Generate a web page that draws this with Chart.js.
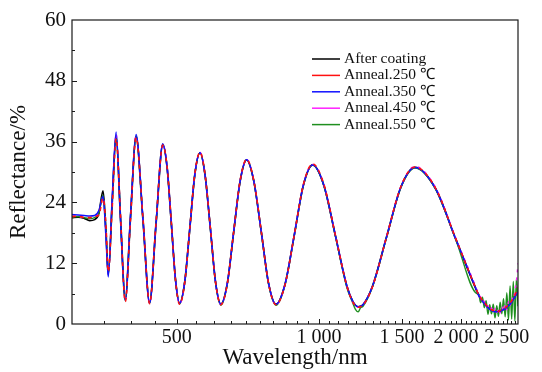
<!DOCTYPE html>
<html>
<head>
<meta charset="utf-8">
<script src="https://cdn.jsdelivr.net/npm/chart.js@4.4.1/dist/chart.umd.min.js"></script>
<style>
  html, body { margin: 0; padding: 0; background: #fff; }
  #wrap { width: 542px; height: 372px; }
</style>
</head>
<body>
<div id="wrap"><canvas id="grafico"></canvas></div>
<script>
// wavelength (nm), shared by every series
const wavelength = [
    300, 309, 318, 327, 335, 342, 349, 354, 358, 365,
    372, 380, 389, 399, 410, 424, 438, 452, 467, 477,
    487, 497, 507, 520, 533, 546, 560, 574, 589, 604,
    620, 640, 660, 681, 703, 728, 755, 782, 811, 848,
    887, 927, 970, 1025, 1084, 1146, 1180, 1195, 1211, 1225,
    1240, 1298, 1391, 1491, 1597, 1764, 1950, 2160, 2180, 2200,
    2220, 2240, 2260, 2280, 2300, 2320, 2340, 2360, 2380, 2400,
    2420, 2440, 2460, 2480, 2500, 2520, 2540, 2560, 2580, 2600,
    2620, 2640
];

// reflectance (%)
const afterCoating = [
    21.0, 21.1, 20.9, 20.4, 20.6, 21.8, 26.3, 18.5, 9.8, 24.0,
    37.2, 21.0, 4.8, 21.0, 37.0, 20.6, 4.2, 19.8, 35.4, 30.9,
    19.8, 8.7, 4.1, 8.4, 19.0, 29.5, 33.8, 29.4, 18.9, 8.3,
    3.9, 8.1, 18.2, 28.2, 32.4, 28.2, 18.2, 8.1, 3.9, 7.9,
    17.6, 27.4, 31.4, 27.3, 17.4, 7.5, 4.4, 3.7, 3.4, 3.5,
    3.8, 7.4, 17.2, 27.0, 30.9, 26.8, 16.7, 6.5, 5.7, 5.1,
    4.6, 4.1, 3.7, 3.3, 3.0, 2.8, 2.6, 2.5, 2.5, 2.5,
    2.6, 2.7, 2.9, 3.1, 3.4, 3.7, 4.0, 4.4, 4.9, 5.4,
    6.0, 6.6
];
const anneal250 = [
    21.2, 21.3, 21.0, 21.0, 21.2, 21.5, 24.8, 19.5, 10.3, 23.0,
    36.6, 21.5, 4.4, 20.5, 36.8, 21.0, 4.0, 20.2, 35.3, 31.0,
    20.0, 8.6, 3.9, 8.3, 19.0, 29.6, 33.9, 29.5, 19.0, 8.3,
    3.8, 8.0, 18.2, 28.3, 32.5, 28.3, 18.3, 8.1, 3.8, 7.8,
    17.6, 27.5, 31.6, 27.5, 17.5, 7.5, 4.3, 3.6, 3.3, 3.4,
    3.7, 7.3, 17.2, 27.1, 31.0, 26.9, 16.8, 6.6, 5.8, 5.2,
    4.6, 4.2, 3.8, 3.3, 3.1, 2.8, 2.7, 2.5, 2.6, 2.5,
    2.7, 2.8, 3.0, 3.2, 3.5, 3.7, 4.1, 4.6, 5.0, 5.7,
    6.4, 7.2
];
const anneal350 = [
    21.6, 21.5, 21.4, 21.3, 21.4, 22.4, 25.2, 17.2, 9.3, 25.0,
    37.9, 20.8, 4.6, 21.3, 37.4, 20.7, 4.1, 19.9, 35.6, 30.9,
    19.8, 8.7, 4.1, 8.4, 19.0, 29.5, 33.8, 29.4, 18.9, 8.3,
    3.9, 8.1, 18.2, 28.2, 32.4, 28.2, 18.2, 8.1, 3.9, 7.9,
    17.6, 27.4, 31.4, 27.3, 17.4, 7.5, 4.4, 3.7, 3.4, 3.5,
    3.8, 7.4, 17.2, 27.0, 30.9, 26.8, 16.7, 6.5, 5.6, 5.0,
    4.5, 4.0, 3.6, 3.2, 2.9, 2.7, 2.5, 2.4, 2.4, 2.5,
    2.5, 2.7, 2.8, 3.0, 3.3, 3.6, 3.9, 4.3, 4.8, 5.3,
    5.9, 6.3
];
const anneal450 = [
    21.3, 21.2, 21.1, 21.0, 21.1, 22.0, 25.0, 18.0, 9.8, 24.5,
    37.5, 21.2, 4.5, 21.1, 37.2, 20.8, 4.1, 20.0, 35.5, 31.0,
    19.9, 8.6, 4.0, 8.4, 19.1, 29.6, 33.9, 29.5, 19.0, 8.3,
    3.8, 8.1, 18.3, 28.3, 32.5, 28.3, 18.3, 8.1, 3.8, 7.9,
    17.7, 27.5, 31.5, 27.4, 17.5, 7.6, 4.3, 3.6, 3.3, 3.5,
    3.8, 7.4, 17.3, 27.1, 31.1, 27.0, 16.9, 6.7, 5.6, 5.4,
    4.4, 4.5, 3.4, 3.6, 2.7, 3.2, 2.3, 3.0, 2.1, 3.1,
    2.2, 3.4, 2.5, 3.9, 2.8, 4.4, 3.5, 5.2, 4.6, 6.6,
    8.4, 12.0
];
const anneal550 = [
    21.1, 21.2, 21.0, 20.8, 21.0, 21.9, 25.4, 18.2, 9.6, 24.2,
    37.3, 21.1, 4.6, 21.0, 37.1, 20.7, 4.1, 19.9, 35.4, 30.9,
    19.8, 8.6, 4.0, 8.4, 19.0, 29.5, 33.8, 29.4, 18.9, 8.2,
    3.7, 8.0, 18.2, 28.2, 32.4, 28.2, 18.1, 8.0, 3.7, 7.8,
    17.5, 27.3, 31.3, 27.2, 17.3, 7.2, 4.1, 2.9, 2.4, 3.2,
    3.5, 7.3, 17.1, 26.9, 30.8, 26.7, 16.6, 6.0, 5.9, 4.2,
    5.3, 3.2, 4.6, 1.9, 3.8, 2.0, 3.9, 1.2, 3.6, 1.5,
    4.3, 2.0, 5.0, 1.4, 6.2, 0.8, 7.5, 1.0, 8.4, 0.6,
    9.0, 3.5
];

const seriesNames = ['After coating', 'Anneal.250 \u2103', 'Anneal.350 \u2103', 'Anneal.450 \u2103', 'Anneal.550 \u2103'];
const seriesColors = ['#000000', '#ff1010', '#1010ff', '#ff20ff', '#1f8f1f'];

const xMajorTicks = [500, 1000, 1500, 2000, 2500];
const xTickLabels = ['500', '1 000', '1 500', '2 000  ', '2 500'];
const yMajorTicks = [0, 12, 24, 36, 48, 60];

const serif = "'Liberation Serif', 'Times New Roman', serif";

function pontos(valores) {
    return valores.map((v, i) => ({ x: wavelength[i], y: v }));
}

// frame, inward ticks and the legend inside the plot
const molduraLegenda = {
    id: 'molduraLegenda',
    afterDraw(chart) {
        const { ctx, chartArea: a, scales: { x, y } } = chart;
        ctx.save();
        ctx.strokeStyle = '#1a1a1a';
        ctx.lineWidth = 1.2;
        ctx.strokeRect(a.left, a.top, a.right - a.left, a.bottom - a.top);

        ctx.beginPath();
        for (let v = 350; v <= 2600; v += 50) {
            const px = Math.round(x.getPixelForValue(v)) + 0.5;
            const len = xMajorTicks.includes(v) ? 5 : 3;
            ctx.moveTo(px, a.bottom);
            ctx.lineTo(px, a.bottom - len);
        }
        for (let v = 6; v < 60; v += 6) {
            const py = Math.round(y.getPixelForValue(v)) + 0.5;
            const len = yMajorTicks.includes(v) ? 5 : 3;
            ctx.moveTo(a.left, py);
            ctx.lineTo(a.left + len, py);
        }
        ctx.lineWidth = 1;
        ctx.stroke();

        ctx.font = '15.5px ' + serif;
        ctx.textBaseline = 'middle';
        ctx.textAlign = 'left';
        seriesNames.forEach((nome, i) => {
            const ly = 59 + i * 16.4;
            ctx.strokeStyle = seriesColors[i];
            ctx.lineWidth = 1.5;
            ctx.beginPath();
            ctx.moveTo(312, ly);
            ctx.lineTo(340, ly);
            ctx.stroke();
            ctx.fillStyle = '#111';
            ctx.fillText(nome, 344, ly);
        });
        ctx.restore();
    }
};

const estilos = [
    { data: afterCoating, width: 1.7, dash: [], order: 5 },
    { data: anneal250, width: 1.6, dash: [4, 4], order: 1 },
    { data: anneal350, width: 1.5, dash: [], order: 2 },
    { data: anneal450, width: 1.4, dash: [3, 5], order: 3 },
    { data: anneal550, width: 1.4, dash: [], order: 4 }
];

new Chart(document.getElementById('grafico'), {
    type: 'line',
    data: {
        datasets: estilos.map((s, i) => ({
            label: seriesNames[i],
            data: pontos(s.data),
            borderColor: seriesColors[i],
            borderWidth: s.width,
            borderDash: s.dash,
            order: s.order,
            pointRadius: 0,
            fill: false,
            cubicInterpolationMode: 'monotone'
        }))
    },
    options: {
        responsive: true,
        maintainAspectRatio: false,
        animation: false,
        devicePixelRatio: 1,
        layout: { padding: { top: 20, right: 24, left: 0, bottom: 0 } },
        plugins: {
            legend: { display: false },
            tooltip: { enabled: false }
        },
        scales: {
            x: {
                type: 'logarithmic',
                min: 300,
                max: 2640,
                afterBuildTicks: (axis) => {
                    axis.ticks = xMajorTicks.map(v => ({ value: v }));
                },
                afterFit: (scale) => { scale.height = 48; },
                ticks: {
                    autoSkip: false,
                    maxRotation: 0,
                    padding: 2,
                    color: '#111',
                    font: { family: serif, size: 20 },
                    callback: (v) => {
                        const i = xMajorTicks.indexOf(Number(v));
                        return i >= 0 ? xTickLabels[i] : '';
                    }
                },
                grid: { display: false, drawTicks: false },
                border: { display: false },
                title: {
                    display: true,
                    text: 'Wavelength/nm',
                    color: '#111',
                    font: { family: serif, size: 23 },
                    padding: { top: 0, bottom: 0 }
                }
            },
            y: {
                min: 0,
                max: 60,
                afterBuildTicks: (axis) => {
                    axis.ticks = yMajorTicks.map(v => ({ value: v }));
                },
                afterFit: (scale) => { scale.width = 72; },
                ticks: {
                    padding: 6,
                    color: '#111',
                    font: { family: serif, size: 21 }
                },
                grid: { display: false, drawTicks: false },
                border: { display: false },
                title: {
                    display: true,
                    text: 'Reflectance/%',
                    color: '#111',
                    font: { family: serif, size: 23 },
                    padding: { top: 5, bottom: 0 }
                }
            }
        }
    },
    plugins: [molduraLegenda]
});
</script>
</body>
</html>
